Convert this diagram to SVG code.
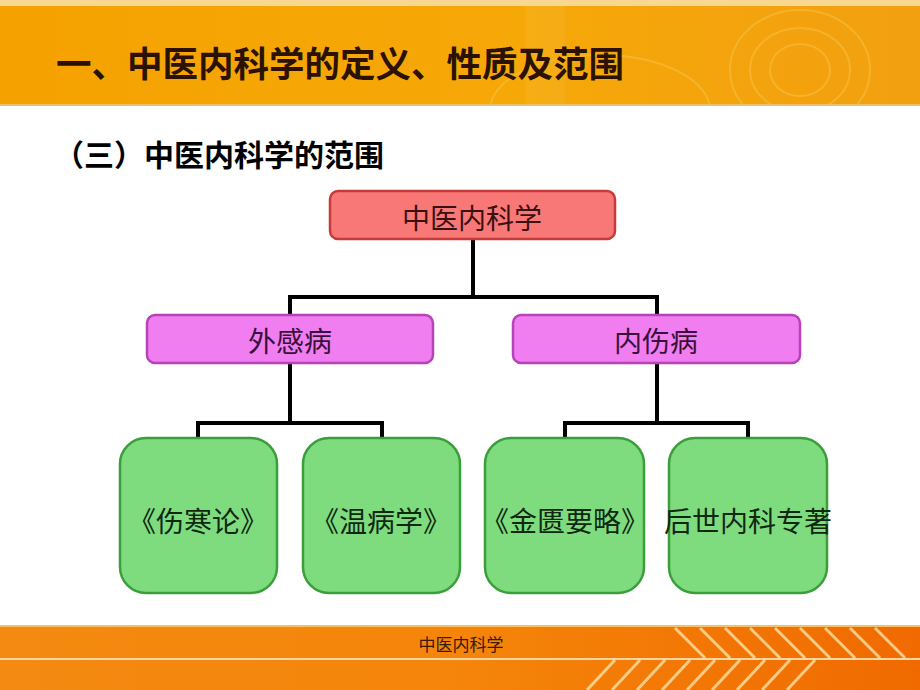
<svg xmlns="http://www.w3.org/2000/svg" width="920" height="690" viewBox="0 0 920 690">
<defs>
<linearGradient id="hdr" x1="0" y1="0" x2="1" y2="0">
<stop offset="0" stop-color="#f5a200"/>
<stop offset="0.55" stop-color="#f6a808"/>
<stop offset="1" stop-color="#f2a010"/>
</linearGradient>
<linearGradient id="ftr" x1="0" y1="0" x2="1" y2="0">
<stop offset="0" stop-color="#f48a12"/>
<stop offset="0.5" stop-color="#f5850a"/>
<stop offset="1" stop-color="#f06a00"/>
</linearGradient>
<clipPath id="hclip"><rect x="0" y="0" width="920" height="104"/></clipPath>
<style>
.title{font-family:"Noto Sans CJK SC","Noto Sans CJK TC",sans-serif;font-weight:bold;}
.lbl{font-family:"Noto Sans CJK SC","Noto Sans CJK TC",sans-serif;font-size:28px;text-anchor:middle;}
.root rect{fill:#f87878;stroke:#c83a3a;stroke-width:2.5;}
.mid rect{fill:#f07ef0;stroke:#b842b8;stroke-width:2.5;}
.leaf rect{fill:#7edc7e;stroke:#3a9e3a;stroke-width:2.5;}
.conn{stroke:#000;stroke-width:4;fill:none;stroke-linecap:square;}
.stripe{stroke:#ffe8b0;stroke-width:3;opacity:0.75;}
</style>
</defs>
<rect x="0" y="0" width="920" height="690" fill="#ffffff"/>
<!-- header -->
<rect x="0" y="0" width="920" height="106" fill="url(#hdr)"/>
<rect x="0" y="0" width="920" height="6" fill="#f8d890"/>
<g clip-path="url(#hclip)" fill="none" stroke="#f8c850" stroke-width="2" opacity="0.45">
<ellipse cx="800" cy="70" rx="70" ry="60"/>
<ellipse cx="800" cy="70" rx="50" ry="42"/>
<ellipse cx="800" cy="70" rx="30" ry="26"/>
<ellipse cx="600" cy="110" rx="110" ry="55"/>
</g>
<rect x="525" y="6" width="40" height="98" fill="#f8b830" opacity="0.3"/>
<rect x="0" y="104" width="920" height="2" fill="#e8c070"/>
<text class="title" x="56" y="77" font-size="35.5" fill="#2b1200">一、中医内科学的定义、性质及范围</text>
<text class="title" x="54" y="166" font-size="30" fill="#000000">（三）中医内科学的范围</text>
<!-- footer -->
<rect x="0" y="625" width="920" height="65" fill="url(#ftr)"/>
<rect x="0" y="625" width="920" height="2" fill="#f8c060"/>
<rect x="0" y="658" width="920" height="2" fill="#fbd6a0"/>
<g class="stripe">
<line x1="675" y1="628" x2="705" y2="658"/>
<line x1="700" y1="628" x2="730" y2="658"/>
<line x1="725" y1="628" x2="755" y2="658"/>
<line x1="750" y1="628" x2="780" y2="658"/>
<line x1="775" y1="628" x2="805" y2="658"/>
<line x1="800" y1="628" x2="830" y2="658"/>
<line x1="825" y1="628" x2="855" y2="658"/>
<line x1="850" y1="628" x2="880" y2="658"/>
<line x1="875" y1="628" x2="905" y2="658"/>
<line x1="615" y1="660" x2="587" y2="690"/>
<line x1="640" y1="660" x2="612" y2="690"/>
<line x1="665" y1="660" x2="637" y2="690"/>
<line x1="690" y1="660" x2="662" y2="690"/>
<line x1="715" y1="660" x2="687" y2="690"/>
<line x1="740" y1="660" x2="712" y2="690"/>
<line x1="765" y1="660" x2="737" y2="690"/>
<line x1="790" y1="660" x2="762" y2="690"/>
<line x1="815" y1="660" x2="787" y2="690"/>
</g>
<text x="461" y="651" font-family="'Noto Sans CJK SC',sans-serif" font-size="17" text-anchor="middle" fill="#3a1a00">中医内科学</text>
<!-- connectors -->
<g id="connectors" class="conn">
<path d="M473 239 V297 M290 297 H657 M290 297 V315 M657 297 V315"/>
<path d="M290 363 V423 M198 423 H382 M198 423 V438 M382 423 V438"/>
<path d="M657 363 V423 M565 423 H748 M565 423 V438 M748 423 V438"/>
</g>
<!-- nodes -->
<g id="node-root" class="root">
<rect x="330" y="191" width="285" height="48" rx="8"/>
<text class="lbl" x="472" y="229" fill="#3a1010">中医内科学</text>
</g>
<g id="node-waigan" class="mid">
<rect x="147" y="315" width="286" height="48" rx="8"/>
<text class="lbl" x="290" y="352" fill="#3a103a">外感病</text>
</g>
<g id="node-neishang" class="mid">
<rect x="513" y="315" width="287" height="48" rx="8"/>
<text class="lbl" x="656" y="352" fill="#3a103a">内伤病</text>
</g>
<g id="node-shanghan" class="leaf">
<rect x="120" y="438" width="157" height="155" rx="26"/>
<text class="lbl" x="198" y="532" fill="#102810">《伤寒论》</text>
</g>
<g id="node-wenbing" class="leaf">
<rect x="303" y="438" width="157" height="155" rx="26"/>
<text class="lbl" x="381" y="532" fill="#102810">《温病学》</text>
</g>
<g id="node-jingui" class="leaf">
<rect x="485" y="438" width="159" height="155" rx="26"/>
<text class="lbl" x="565" y="532" fill="#102810">《金匮要略》</text>
</g>
<g id="node-houshi" class="leaf">
<rect x="669" y="438" width="158" height="155" rx="26"/>
<text class="lbl" x="748" y="532" fill="#102810">后世内科专著</text>
</g>
</svg>
